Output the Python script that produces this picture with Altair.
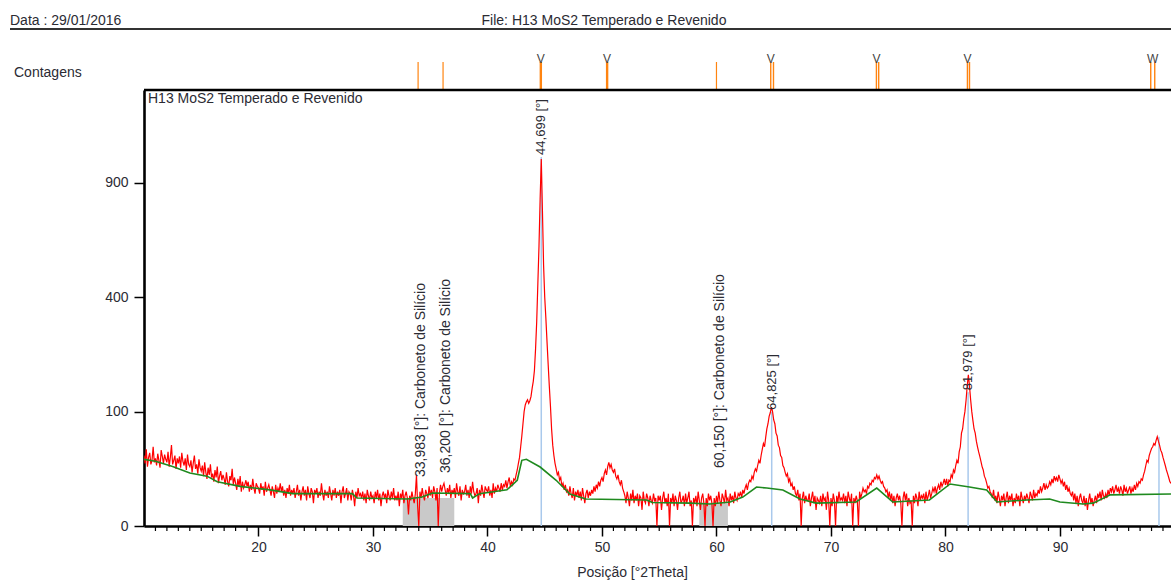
import altair as alt
import pandas as pd

# ---------------- data ----------------
scan_start = 10.0
scan_step = 0.1
# counts, one line per degree (10.0 ... 99.9)
counts = [
    38, 30, 45, 27, 36, 41, 29, 33, 48, 31,   # 10
    35, 28, 40, 33, 26, 44, 37, 30, 39, 34,   # 11
    31, 42, 27, 36, 50, 29, 33, 38, 25, 35,   # 12
    30, 37, 26, 41, 32, 28, 35, 24, 39, 29,   # 13
    27, 33, 22, 30, 38, 25, 29, 21, 34, 26,   # 14
    23, 28, 19, 31, 22, 17, 26, 20, 29, 18,   # 15
    21, 15, 24, 18, 27, 14, 19, 23, 16, 20,   # 16
    17, 13, 22, 15, 12, 19, 16, 25, 13, 18,   # 17
    14, 10, 17, 12, 19, 9, 15, 11, 13, 16,    # 18
    12, 15, 9, 13, 10, 17, 11, 8, 14, 12,     # 19
    11, 8, 14, 10, 12, 7, 15, 9, 11, 13,      # 20
    10, 7, 12, 9, 6, 13, 8, 11, 9, 14,        # 21
    9, 12, 7, 10, 6, 11, 8, 13, 7, 10,        # 22
    8, 11, 6, 9, 13, 7, 10, 5, 9, 12,         # 23
    7, 10, 5, 12, 8, 6, 11, 9, 4, 10,         # 24
    8, 11, 6, 9, 7, 14, 8, 5, 10, 7,          # 25
    9, 6, 12, 8, 5, 10, 7, 11, 6, 9,          # 26
    7, 10, 4, 9, 12, 6, 8, 11, 5, 9,          # 27
    8, 5, 10, 7, 3, 9, 6, 11, 7, 8,           # 28
    6, 9, 5, 8, 4, 10, 7, 5, 9, 6,            # 29
    7, 4, 9, 6, 10, 5, 8, 3, 7, 9,            # 30
    6, 8, 4, 10, 7, 5, 9, 6, 11, 5,           # 31
    7, 5, 9, 3, 8, 6, 10, 4, 7, 9,            # 32
    6, 1, 7, 5, 9, 6, 4, 8, 20, 3,            # 33
    0, 9, 6, 11, 7, 5, 10, 8, 6, 12,          # 34
    7, 10, 6, 12, 9, 5, 11, 0, 8, 13,         # 35
    9, 12, 14, 10, 7, 11, 8, 13, 6, 10,       # 36
    8, 11, 6, 14, 9, 7, 12, 5, 10, 8,         # 37
    9, 13, 7, 10, 6, 12, 8, 15, 9, 7,         # 38
    8, 11, 4, 10, 7, 13, 9, 6, 12, 10,        # 39
    9, 12, 7, 10, 6, 14, 8, 11, 9, 13,        # 40
    11, 9, 14, 10, 13, 12, 16, 11, 15, 18,    # 41
    12, 15, 13, 17, 16, 20, 24, 30, 36, 48,   # 42
    62, 80, 100, 112, 118, 122, 115, 120, 128, 145,   # 43
    160, 185, 240, 320, 450, 600, 820, 1030, 760, 520,  # 44
    400, 330, 260, 200, 150, 110, 72, 50, 38, 30,     # 45
    25, 20, 22, 16, 18, 12, 14, 10, 13, 9,    # 46
    10, 7, 12, 8, 6, 11, 5, 9, 7, 10,         # 47
    6, 9, 5, 11, 7, 4, 8, 10, 6, 9,           # 48
    7, 10, 8, 12, 9, 13, 11, 15, 12, 16,      # 49
    18, 15, 21, 24, 20, 27, 31, 26, 29, 24,   # 50
    22, 25, 19, 17, 20, 15, 13, 16, 11, 9,    # 51
    7, 4, 9, 6, 3, 8, 5, 10, 4, 7,            # 52
    5, 8, 3, 7, 6, 2, 9, 5, 4, 8,             # 53
    6, 3, 7, 5, 4, 8, 5, 6, 0, 7,             # 54
    5, 7, 2, 6, 9, 4, 6, 3, 8, 0,             # 55
    6, 4, 8, 3, 7, 5, 2, 6, 9, 4,             # 56
    5, 7, 3, 8, 4, 6, 9, 3, 5, 0,             # 57
    6, 4, 7, 3, 9, 5, 2, 6, 8, 4,             # 58
    0, 6, 3, 8, 5, 7, 4, 0, 6, 3,             # 59
    7, 4, 9, 5, 3, 8, 6, 4, 10, 5,            # 60
    6, 3, 8, 5, 7, 4, 9, 6, 5, 8,             # 61
    7, 9, 6, 10, 8, 11, 13, 10, 14, 16,       # 62
    15, 19, 17, 22, 25, 23, 28, 33, 30, 38,   # 63
    45, 52, 48, 60, 72, 80, 92, 98, 108, 100, # 64
    86, 80, 66, 62, 50, 47, 38, 36, 28, 26,   # 65
    22, 19, 21, 15, 17, 12, 14, 10, 12, 8,    # 66
    7, 10, 5, 8, 0, 6, 9, 4, 7, 5,            # 67
    5, 8, 3, 6, 9, 4, 7, 2, 6, 5,             # 68
    4, 7, 3, 8, 5, 6, 2, 9, 5, 0,             # 69
    6, 3, 8, 5, 0, 7, 4, 9, 5, 6,             # 70
    5, 8, 4, 7, 3, 9, 6, 4, 8, 0,             # 71
    6, 4, 7, 5, 0, 9, 6, 8, 11, 9,            # 72
    10, 8, 12, 11, 14, 13, 16, 15, 18, 17,    # 73
    20, 17, 19, 16, 14, 15, 12, 11, 9, 10,    # 74
    6, 9, 5, 8, 4, 7, 3, 6, 8, 5,             # 75
    7, 4, 0, 6, 9, 5, 8, 3, 6, 4,             # 76
    5, 0, 7, 4, 8, 6, 3, 9, 5, 7,             # 77
    6, 8, 4, 9, 5, 7, 10, 6, 8, 11,           # 78
    9, 12, 8, 11, 13, 10, 15, 12, 14, 17,     # 79
    13, 17, 12, 16, 15, 20, 18, 24, 22, 28,   # 80
    33, 30, 42, 48, 66, 72, 88, 100, 121, 150,  # 81
    175, 150, 122, 100, 85, 72, 66, 55, 48, 42, # 82
    37, 32, 27, 24, 19, 17, 14, 11, 12, 9,    # 83
    8, 6, 10, 5, 7, 4, 9, 6, 3, 7,            # 84
    5, 8, 3, 6, 9, 4, 7, 5, 8, 3,             # 85
    6, 4, 8, 5, 7, 3, 9, 6, 4, 7,             # 86
    5, 8, 6, 4, 9, 7, 5, 10, 6, 8,            # 87
    7, 10, 8, 12, 9, 11, 14, 10, 13, 11,      # 88
    12, 15, 13, 17, 14, 19, 16, 18, 15, 20,   # 89
    17, 14, 16, 12, 15, 10, 13, 9, 11, 8,     # 90
    7, 9, 5, 8, 4, 7, 3, 6, 8, 5,             # 91
    4, 7, 3, 6, 2, 5, 8, 4, 6, 3,             # 92
    5, 7, 4, 8, 6, 9, 5, 10, 7, 6,            # 93
    8, 6, 10, 7, 11, 9, 12, 8, 10, 13,        # 94
    9, 11, 8, 12, 10, 7, 13, 9, 11, 8,        # 95
    10, 12, 8, 11, 9, 13, 10, 14, 12, 15,     # 96
    14, 17, 16, 20, 23, 28, 33, 31, 38, 42,   # 97
    46, 48, 52, 50, 56, 61, 55, 50, 44, 41,   # 98
    36, 32, 28, 24, 21, 18, 15, 14, 13, 12,   # 99
]
two_theta = [round(scan_start + scan_step * i, 2) for i in range(len(counts))]

# background (green)
bg_theta = [10.0, 11.0, 12.5, 14.0, 15.5, 16.4, 18.4, 21.0, 23.0, 28.2, 28.6, 33.0,
            34.3, 35.2, 38.5, 38.7, 39.3, 41.7, 42.6, 43.0, 43.4, 44.6, 46.0, 47.2,
            48.6, 53.9, 54.4, 57.7, 59.4, 61.2, 62.3, 63.5, 64.4, 65.8, 67.3, 68.7,
            72.2, 74.0, 75.4, 78.6, 80.4, 82.1, 83.6, 84.5, 87.1, 89.1, 90.0, 92.0,
            92.9, 94.4, 99.7]
bg_counts = [34, 32, 27, 21.5, 19, 15, 12, 10, 8, 8, 6, 5.6,
             6.4, 8.3, 8, 6, 8, 10, 16, 33, 34, 26.6, 16, 7.8,
             5.6, 5.2, 4.2, 4, 3.7, 4.4, 6.4, 11.6, 11, 9.9, 5.6, 4,
             4.4, 11, 4.4, 5.2, 13.5, 11.6, 9.9, 4.4, 5.2, 5.6, 4.4, 3.7,
             4, 7.4, 7.8]

# identified peaks (blue lines)
peak_pos = [44.699, 64.825, 81.979, 98.65]
peak_top = [1042, 99.5, 137, 61]
peak_text = ["44,699 [°]", "64,825 [°]", "81,979 [°]", ""]

# silicon carbide reference labels
sic_pos = [33.983, 36.200, 60.150]
sic_label_base = [18.4, 21.5, 25.7]
sic_text = ["33,983 [°]: Carboneto de Silício",
            "36,200 [°]: Carboneto de Silício",
            "60,150 [°]: Carboneto de Silício"]

# shaded bands
band_start = [32.6, 58.5]
band_end = [37.1, 61.0]
band_top = [6.0, 4.2]

# reference pattern sticks (top strip)
ref_pos = [33.94, 36.12, 44.66, 50.45, 60.0, 64.74, 64.98, 73.97, 74.17,
           81.92, 82.10, 97.93, 98.28]
ref_width = [1.2, 1.2, 2.4, 2.4, 1.2, 1.4, 1.4, 1.4, 1.4, 1.4, 1.4, 1.4, 1.4]
mark_pos = [44.66, 50.45, 64.74, 73.97, 81.92, 98.1]
mark_sym = ["V", "V", "V", "V", "V", "W"]

x_major = [20, 30, 40, 50, 60, 70, 80, 90]
x_minor = [v for v in range(11, 100) if v % 10]
y_ticks = [0, 100, 400, 900]

FONT = "Liberation Sans"
TXT = "#2b2b33"

# ---------------- chart ----------------
xscale = alt.Scale(domain=[10, 99.7], nice=False, zero=False)
yscale = alt.Scale(type="sqrt", domain=[0, 1454], nice=False)
xaxis = alt.Axis(values=x_major, tickSize=10, tickWidth=1.5, tickColor="black",
                 domainWidth=2.6, domainColor="black", grid=False,
                 labelFont=FONT, labelFontSize=14, labelColor=TXT, labelPadding=4,
                 title="Posição [°2Theta]", titleFont=FONT, titleFontSize=14,
                 titleFontWeight="normal", titleColor=TXT, titleX=488, titleY=50,
                 titleAlign="center", titleBaseline="alphabetic")
yaxis = alt.Axis(values=y_ticks, tickSize=10, tickWidth=1.5, tickColor="black",
                 domainWidth=2.6, domainColor="black", grid=False,
                 labelFont=FONT, labelFontSize=14, labelColor=TXT, labelPadding=6,
                 title=None)


def X(field):
    return alt.X(field, type="quantitative", scale=xscale, axis=xaxis)


def Y(field):
    return alt.Y(field, type="quantitative", scale=yscale, axis=yaxis)


scan_df = pd.DataFrame({"theta": two_theta, "counts": counts})
bg_df = pd.DataFrame({"theta": bg_theta, "counts": bg_counts})
peak_df = pd.DataFrame({"theta": peak_pos, "top": peak_top, "label": peak_text})
sic_df = pd.DataFrame({"theta": sic_pos, "base": sic_label_base, "label": sic_text})
band_df = pd.DataFrame({"start": band_start, "end": band_end, "top": band_top})
ref_df = pd.DataFrame({"theta": ref_pos, "w": ref_width})
mark_df = pd.DataFrame({"theta": mark_pos, "sym": mark_sym})
minor_df = pd.DataFrame({"theta": x_minor})
one = alt.Data(values=[{}])

bands = alt.Chart(band_df).mark_rect(color="#c9c9c9").encode(
    x=X("start"), x2="end", y=Y("top"), y2=alt.datum(0))

blue = alt.Chart(peak_df).mark_rule(color="#a9c9ec", strokeWidth=1.5).encode(
    x=X("theta"), y=Y("top"), y2=alt.datum(0))

scan = alt.Chart(scan_df).mark_line(color="#ff0000", strokeWidth=1.2, clip=True).encode(
    x=X("theta"), y=Y("counts"))

bg = alt.Chart(bg_df).mark_line(color="#1f8a1f", strokeWidth=1.6, clip=True).encode(
    x=X("theta"), y=Y("counts"))

peak_lbl = alt.Chart(peak_df).mark_text(
    angle=270, align="left", baseline="middle", font=FONT, fontSize=13,
    color=TXT, dx=2).encode(x=X("theta"), y=Y("top"), text="label:N")

sic_lbl = alt.Chart(sic_df).mark_text(
    angle=270, align="left", baseline="middle", font=FONT, fontSize=14,
    color=TXT, dy=2).encode(x=X("theta"), y=Y("base"), text="label:N")

minor = alt.Chart(minor_df).mark_rule(color="black", strokeWidth=1.2).encode(
    x=X("theta"), y=alt.value(436), y2=alt.value(441))

ref = alt.Chart(ref_df).mark_rule(color="#ff8410").encode(
    x=X("theta"), y=alt.value(-28), y2=alt.value(0),
    strokeWidth=alt.StrokeWidth("w:Q", scale=None))

marks_v = alt.Chart(mark_df).mark_text(
    font=FONT, fontSize=12, color="#444", baseline="alphabetic",
    align="center").encode(x=X("theta"), y=alt.value(-27), text="sym:N")

top_line = alt.Chart(one).mark_rule(color="black", strokeWidth=2.4).encode(
    x=alt.value(0), x2=alt.value(1027), y=alt.value(0))

head_line = alt.Chart(one).mark_rule(color="#333", strokeWidth=2).encode(
    x=alt.value(-134), x2=alt.value(1027), y=alt.value(-61))


def label(txt, x, y, align="left", size=14):
    return alt.Chart(one).mark_text(
        text=txt, font=FONT, fontSize=size, color=TXT, align=align,
        baseline="alphabetic").encode(x=alt.value(x), y=alt.value(y))


t_date = label("Data : 29/01/2016", -134, -65)
t_file = label("File: H13 MoS2 Temperado e Revenido", 460, -65, align="center")
t_cont = label("Contagens", -130, -13)
t_inner = label("H13 MoS2 Temperado e Revenido", 4, 13)

chart = alt.layer(
    bands, blue, scan, bg, peak_lbl, sic_lbl, minor, ref, marks_v,
    top_line, head_line, t_date, t_file, t_cont, t_inner
).properties(
    width=1027, height=436,
    autosize=alt.AutoSizeParams(type="none"),
    padding={"left": 144, "top": 90, "right": 0, "bottom": 54},
    background="white",
).configure_view(stroke=None)

chart.save("out.html", embed_options={"renderer": "svg", "actions": False})
